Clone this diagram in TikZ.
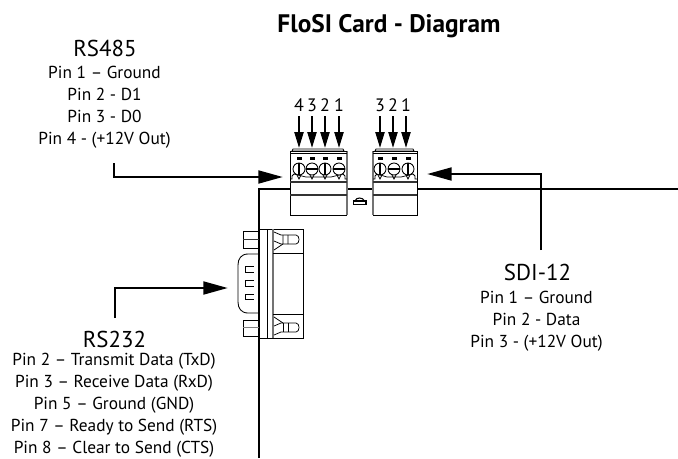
\documentclass[tikz,border=0pt]{standalone}
\usepackage{fontspec}
\setmainfont{PT Sans}
\usetikzlibrary{arrows.meta}
\tikzset{
 head/.style={font=\fontsize{17.2}{18}\selectfont,inner sep=0pt,align=center},
 body/.style={font=\fontsize{13}{16.4}\selectfont,inner sep=0pt,align=center},
 num/.style={font=\fontsize{13.5}{15}\selectfont,inner sep=0pt},
 bigarrow/.style={line width=2.2pt,-{Triangle[length=18.5pt,width=9.5pt]}},
 pinarrow/.style={line width=1.5pt,-{Triangle[length=12pt,width=6.8pt]}},
 outline/.style={draw=black,line width=0.65pt,fill=white},
 board/.style={line width=1.4pt},
 thinl/.style={draw=black,line width=0.55pt},
 greyl/.style={draw=black!55,line width=1pt},
 band/.style={draw=black!80,line width=1.2pt},
 slot/.style={line width=1.5pt}
}
\begin{document}
\begin{tikzpicture}[x=0.75pt,y=-0.75pt]
\useasboundingbox (0,0) rectangle (678,458);
% board
\coordinate (bl0) at (259,458);
\coordinate (bl1) at (259,189);
\coordinate (bl2) at (678,189);
\draw[board] (bl0) -- (bl1) -- (bl2);
% left terminal
\draw[outline] (293,149) -- (343,149) -- (344,151) -- (292,151) -- cycle;
\fill[white] (290,151) rectangle (347,215);
\draw[greyl] (347,151) -- (347,215);
\draw[thinl] (347,215) -- (290,215) -- (290,151) -- (347,151);
\draw[thinl] (290,153.5) -- (347,153.5);
\draw[band] (290,182) -- (347,182);
\draw[band] (290,195) -- (347,195);
\draw[thinl] (290,179) -- (292,179) -- (292,176) -- (294,174) -- (306,177) -- (318,177) -- (331,177) -- (343,174) -- (345,176) -- (345,179) -- (347,179);
\foreach \x in {299,312,325,339}{
  \fill (\x-2.5,157) rectangle (\x+2.5,160);
  \draw[outline] (\x,169) circle (6);
  \draw[thinl] (\x-2,175) -- (\x,179) -- (\x+2,175);
}
\draw[slot] (299,163) -- (299,175);
\draw[slot] (325,163) -- (325,175);
\draw[slot] (306,169) -- (318,169);
\draw[slot] (333,169) -- (345,169);
% right terminal
\draw[outline] (376,149) -- (413,149) -- (414,151) -- (375,151) -- cycle;
\fill[white] (373,151) rectangle (417,215);
\draw[greyl] (373,151) -- (373,215);
\draw[thinl] (373,215) -- (417,215) -- (417,151) -- (373,151);
\draw[thinl] (373,153.5) -- (417,153.5);
\draw[band] (373,182) -- (417,182);
\draw[band] (373,195) -- (417,195);
\draw[thinl] (373,179) -- (375,179) -- (375,176) -- (377,174) -- (387,177) -- (401,177) -- (413,174) -- (415,176) -- (415,179) -- (417,179);
\foreach \x in {380,394,408}{
  \fill (\x-2.5,157) rectangle (\x+2.5,160);
  \draw[outline] (\x,169) circle (6);
  \draw[thinl] (\x-2,175) -- (\x,179) -- (\x+2,175);
}
\draw[slot] (380,163) -- (380,175);
\draw[slot] (388,169) -- (400,169);
\draw[slot] (408,163) -- (408,175);
% LED
\draw[thinl,line width=0.8pt] (353.5,201) rectangle (366,204.5);
\draw[thinl,line width=0.8pt] (355,201) .. controls (356,197) and (363,197) .. (364.5,201);
% DB9
\draw[outline] (259,229) rectangle (303,338);
\draw[thinl] (267,229) -- (267,338);
\draw[greyl] (273,229) -- (273,338);
\draw[thinl] (273,253) -- (303,253);
\draw[thinl] (273,314) -- (303,314);
\draw[thinl] (274,232) -- (281,235) -- (296,235) .. controls (300,235) and (300,244) .. (296,244) -- (281,244) -- (274,241);
\draw[thinl] (274,250) -- (283,244) (283,235) -- (283,244) (288,235) -- (288,244);
\draw[thinl] (274,317) -- (283,323);
\draw[thinl] (274,335) -- (281,332) -- (296,332) .. controls (300,332) and (300,323) .. (296,323) -- (281,323) -- (274,326);
\draw[thinl] (283,323) -- (283,332) (288,323) -- (288,332);
\draw[board] (259,189) -- (259,458);
\draw[thinl,line width=0.65pt] (259,254) -- (248,254) .. controls (241,254) and (238,259) .. (238,265) -- (238,302) .. controls (238,308) and (241,313) .. (248,313) -- (259,313);
\draw[thinl] (243,231) rectangle (259,248);
\draw[band] (243,239.5) -- (259,239.5);
\draw[thinl] (243,320) rectangle (259,336);
\draw[band,draw=black!50] (243,327.5) -- (259,327.5);
\foreach \y in {269.5,283.5,297}{
  \draw[thinl] (254,\y-2.7) -- (245,\y-2.7) -- (245,\y+2.7) -- (254,\y+2.7);
}
% pin arrows
\foreach \x/\n in {299/4,312/3,325/2,339/1}{
  \node[num] (a\x) at (\x,105) {\n};
  \coordinate (s\x) at (\x,116);
  \coordinate (e\x) at (\x,148);
  \draw[pinarrow] (s\x) -- (e\x);
}
\foreach \x/\n in {380/3,393/2,406/1}{
  \node[num] (b\x) at (\x,105) {\n};
  \coordinate (t\x) at (\x,116);
  \coordinate (f\x) at (\x,148);
  \draw[pinarrow] (t\x) -- (f\x);
}
% labels
\node[font=\bfseries\fontsize{19}{20}\selectfont,inner sep=0pt] (title) at (389,26) {FloSI Card - Diagram};
\node[head] (rs485) at (105,48) {RS485};
\node[body] (rs485t) at (104.5,107) {Pin 1 – Ground\\Pin 2 - D1\\Pin 3 - D0\\Pin 4 - (+12V Out)};
\node[head] (sdi) at (537.5,272.5) {SDI-12};
\node[body] (sdit) at (536.5,321) {Pin 1 – Ground\\Pin 2 - Data\\Pin 3 - (+12V Out)};
\node[head] (rs232) at (114.5,339) {RS232};
\node[body] (rs232t) at (114,405) {Pin 2 – Transmit Data (TxD)\\Pin 3 – Receive Data (RxD)\\Pin 5 – Ground (GND)\\Pin 7 – Ready to Send (RTS)\\Pin 8 – Clear to Send (CTS)};
% big arrows
\coordinate (c1) at (114,163);\coordinate (c1b) at (114,177);\coordinate (c1e) at (283,177);
\draw[bigarrow] (c1) -- (c1b) -- (c1e);
\coordinate (c2) at (541,250);\coordinate (c2b) at (541,174);\coordinate (c2e) at (427,174);
\draw[bigarrow] (c2) -- (c2b) -- (c2e);
\coordinate (c3) at (115,318);\coordinate (c3b) at (115,288);\coordinate (c3e) at (228,288);
\draw[bigarrow] (c3) -- (c3b) -- (c3e);
\end{tikzpicture}
\end{document}
